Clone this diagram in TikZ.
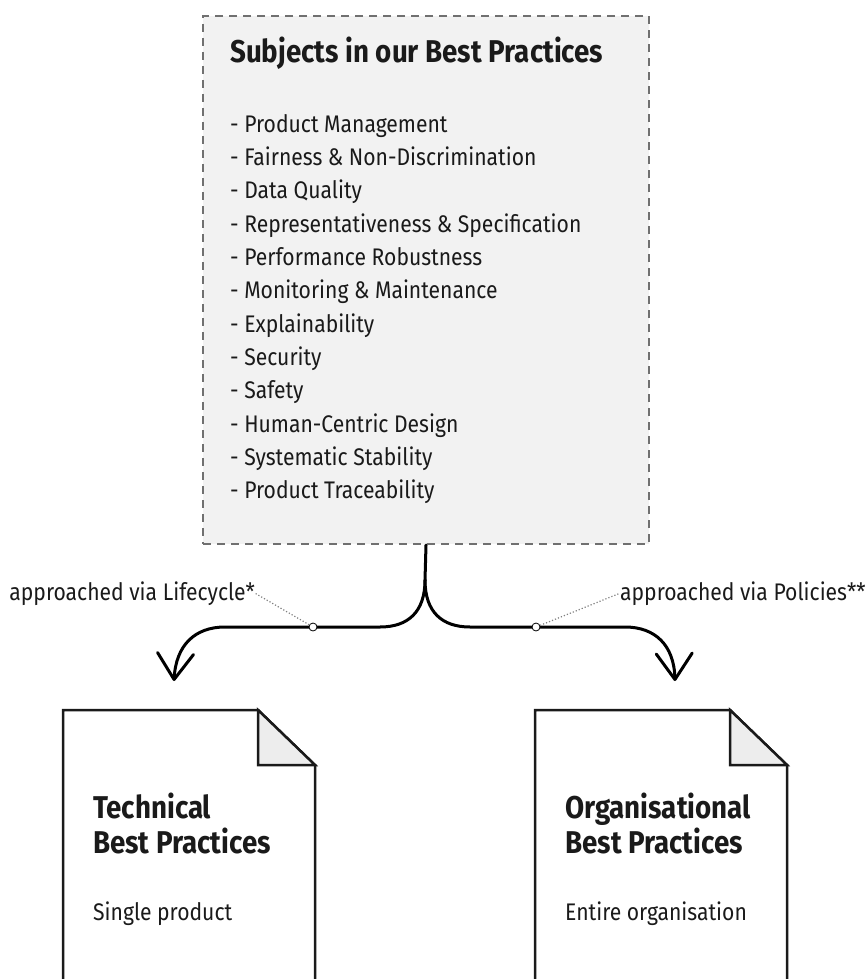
\documentclass[tikz,border=0pt]{standalone}
\usepackage{fontspec}
\setmainfont{Fira Sans}[FakeStretch=0.88]
\usetikzlibrary{arrows.meta,positioning}

\definecolor{boxgray}{HTML}{F2F2F2}
\definecolor{dashgray}{HTML}{707070}
\definecolor{foldgray}{HTML}{EDEDED}
\definecolor{ink}{HTML}{1A1A1A}

\tikzset{
  subjectbox/.style={draw=dashgray, dash pattern=on 8pt off 6pt, line width=2pt,
    fill=boxgray, anchor=north west, inner sep=0pt,
    minimum width=446pt, minimum height=528pt},
  heading/.style={font=\fontsize{31.5}{36}\selectfont\bfseries, text=ink,
    anchor=base west, inner sep=0pt},
  item/.style={font=\fontsize{24}{28}\selectfont, text=ink, anchor=base west, inner sep=0pt},
  flow/.style={line width=3pt, black, line cap=round},
  barb/.style={-{Straight Barb[length=26pt,width=36pt,round]}},
  dotlink/.style={dotted, gray, line width=1.2pt},
  joint/.style={circle, draw, fill=white, line width=0.8pt, inner sep=0pt, minimum size=8pt},
  docsheet/.style={line width=2.5pt, draw=ink, line join=miter}
}

\begin{document}
\begin{tikzpicture}[x=1pt,y=-1pt]
  \useasboundingbox (0,0) rectangle (865,979);

  % subjects box
  \node[subjectbox] (subjects) at (202,15) {};
  \node[heading] (subjtitle) at (230,63) {Subjects in our Best Practices};
  \foreach \topic [count=\i from 0] in {Product Management,
      Fairness \& Non-Discrimination, Data Quality,
      Representativeness \& Specification, Performance Robustness,
      Monitoring \& Maintenance, Explainability, Security, Safety,
      Human-Centric Design, Systematic Stability, Product Traceability}
    \node[item] (topic\i) at (230,132+33.36*\i) {- \topic};

  % split arrows
  \coordinate (split) at (425,580);
  \coordinate (lefttip) at (174,681);
  \coordinate (righttip) at (675,681);
  \draw[flow] (subjects.south) -- (split);
  \draw[flow, barb] (split) .. controls (425,612) and (408,627) .. (380,627)
    -- (225,627) .. controls (195,627) and (176,645) .. (lefttip);
  \draw[flow, barb] (split) .. controls (425,612) and (442,627) .. (470,627)
    -- (625,627) .. controls (655,627) and (674,645) .. (righttip);

  % labels
  \node[item, anchor=base east] (lifecycle) at (255,600) {approached via Lifecycle*};
  \node[item] (policies) at (620,600) {approached via Policies**};
  \node[joint] (lcirc) at (313,627) {};
  \node[joint] (rcirc) at (536,627) {};
  \draw[dotlink] (lcirc) -- (lifecycle.east);
  \draw[dotlink] (rcirc) -- (policies.west);

  % documents
  \draw[docsheet, fill=white] (63,985) -- (63,710) -- (258,710) -- (315,765) -- (315,985);
  \draw[docsheet, fill=foldgray] (258,710) -- (258,765) -- (315,765) -- cycle;
  \draw[docsheet, fill=white] (535,985) -- (535,710) -- (730,710) -- (787,765) -- (787,985);
  \draw[docsheet, fill=foldgray] (730,710) -- (730,765) -- (787,765) -- cycle;

  \node[heading] (tech) at (93,818) {Technical};
  \node[heading] (techbp) at ([yshift=-35pt]tech.base west) {Best Practices};
  \node[item] (techsub) at ([yshift=-67pt]techbp.base west) {Single product};
  \node[heading] (org) at (565,818) {Organisational};
  \node[heading] (orgbp) at ([yshift=-35pt]org.base west) {Best Practices};
  \node[item] (orgsub) at ([yshift=-67pt]orgbp.base west) {Entire organisation};
\end{tikzpicture}
\end{document}
